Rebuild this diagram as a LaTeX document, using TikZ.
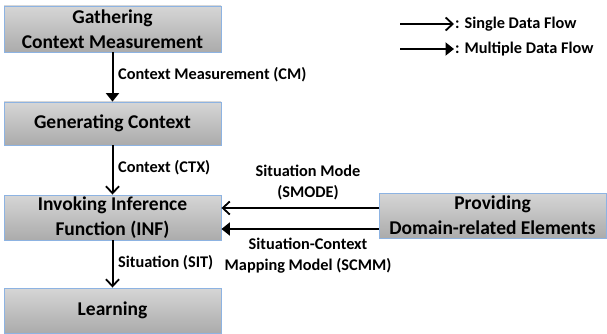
\documentclass[tikz,border=0pt]{standalone}
\usepackage{fontspec}
\setmainfont{Carlito}
\usetikzlibrary{arrows.meta}
\definecolor{boxtop}{HTML}{D6D6D6}
\definecolor{boxbot}{HTML}{ABABAB}
\definecolor{boxline}{HTML}{8DB3E2}
\begin{document}
\begin{tikzpicture}[x=1pt,y=-1pt,
  procbox/.style={draw=boxline, line width=0.9pt, top color=boxtop, bottom color=boxbot,
    minimum height=46pt, inner sep=0pt, align=center, font=\fontsize{19.5}{25}\selectfont\bfseries, text=black},
  single/.style={line width=2pt, -{Straight Barb[length=7pt,width=13pt,line width=1.8pt]}},
  multi/.style={line width=2pt, -{Triangle[length=8.5pt,width=13pt]}},
  lbl/.style={font=\fontsize{16.3}{21}\selectfont\bfseries, align=center, inner sep=0pt}]
\useasboundingbox (0,0) rectangle (607,334);
\node[procbox, minimum width=217pt] (gather) at (112.5,29) {Gathering\\Context Measurement};
\node[procbox, minimum width=217pt, minimum height=43pt] (gen) at (112.5,123.5) {Generating Context};
\node[procbox, minimum width=217pt, minimum height=45pt] (inv) at (112.5,217.5) {Invoking Inference\\Function (INF)};
\node[procbox, minimum width=217pt, minimum height=45pt] (learn) at (112.5,310.5) {Learning};
\node[procbox, minimum width=227pt, minimum height=45pt] (prov) at (492.5,215.5) {Providing\\Domain-related Elements};

\draw[multi] (gather.south) -- (gen.north);
\draw[single] (gen.south) -- (inv.north);
\draw[single] (inv.south) -- (learn.north);
\draw[single] (prov.west |- 0,208) -- (inv.east |- 0,208);
\draw[multi] (prov.west |- 0,229) -- (inv.east |- 0,229);

\node[lbl, anchor=west] (lcm) at (118,75) {Context Measurement (CM)};
\node[lbl, anchor=west] (lctx) at (118,168) {Context (CTX)};
\node[lbl, anchor=west] (lsit) at (118,263) {Situation (SIT)};
\node[lbl] (lsm) at (308,183) {Situation Mode\\(SMODE)};
\node[lbl] (lscmm) at (308,256) {Situation-Context\\Mapping Model (SCMM)};

\coordinate (s1a) at (400,24);
\coordinate (s1b) at (454,24);
\coordinate (s2a) at (400,49);
\coordinate (s2b) at (454,49);
\draw[single] (s1a) -- (s1b);
\draw[multi] (s2a) -- (s2b);
\node[lbl, anchor=west] (leg1) at (455,24) {: Single Data Flow};
\node[lbl, anchor=west] (leg2) at (455,49) {: Multiple Data Flow};
\end{tikzpicture}
\end{document}
